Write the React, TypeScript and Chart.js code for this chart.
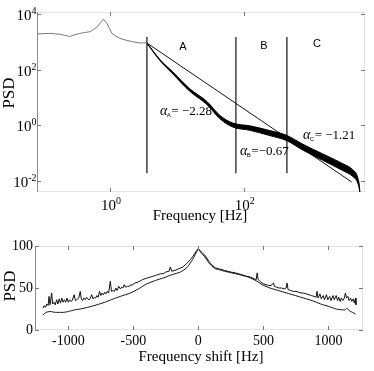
import React, { useEffect, useRef } from "react";
import { Chart, registerables } from "chart.js";
Chart.register(...registerables);

// ---------- Top panel data (log-log PSD) ----------
const lowFreq = [0.081, 0.1, 0.126, 0.15, 0.178, 0.21, 0.251, 0.29, 0.355, 0.42, 0.501, 0.56, 0.646, 0.72, 0.794, 0.85, 0.902, 0.98, 1.07, 1.22, 1.41, 1.7, 2.19, 2.8, 3.56];
const lowPsd = [1905, 1950, 2000, 1930, 1860, 1700, 1550, 1750, 1990, 2150, 2290, 2700, 3450, 4800, 6450, 5500, 4570, 3000, 2000, 1600, 1320, 1150, 1000, 900, 920];

const bandFreq = [3.56, 5.57, 8.71, 15.6, 28.1, 43.9, 68.5, 123, 244, 439, 760, 1510, 3006, 4236, 5012, 5370, 5430];
const bandUpper = [923, 230, 81.3, 20.2, 7.03, 2.23, 1.18, 0.938, 0.634, 0.424, 0.205, 0.0916, 0.0408, 0.0245, 0.0132, 0.0051, 0.003];
const bandLower = [881, 210, 68.9, 16.4, 5.48, 1.69, 0.847, 0.649, 0.419, 0.274, 0.126, 0.054, 0.023, 0.0141, 0.0083, 0.0041, 0.003];

const fitFreq = [3.56, 4093];
const fitPsd = [902, 0.00891];

const boundaryFreq = [3.56, 75.9, 439];
const boundaryPsd = [1479, 0.0186];

const regionNames = ["A", "B", "C"];
const alphaSubs = ["A", "B", "C"];
const alphaValues = ["= \u22122.28", "=\u22120.67", "= \u22121.21"];

const topYTickExps = [-2, 0, 2, 4];
const topXTickExps = [0, 2];

// ---------- Bottom panel data ----------
const shiftUpperFreq = [
  -1195, -1185, -1175, -1165, -1155, -1148, -1140, -1128, -1120, -1110, -1100, -1090, -1080, -1070, -1060, -1050, -1040, -1030, -1020, -1010,
  -1000, -990, -980, -970, -955, -945, -935, -920, -908, -900, -890, -880, -870, -860,
  -850, -840, -830, -820, -810, -800, -790, -780, -770, -760, -750, -740, -730, -720, -710, -700, -690, -677, -668, -655, -645, -635, -625, -612,
  -600, -590, -580, -570, -560, -545, -530, -520, -510, -500, -490, -480, -470, -460, -450,
  -430, -410, -390, -370, -350, -330, -310, -290, -270, -250, -225, -215, -205, -180, -150, -120, -90, -60, -40, -20, 0,
  15, 30, 55, 80, 105, 130, 155, 200, 250, 285, 330, 370, 400, 430, 445, 452, 460, 480, 500, 520, 540, 560, 570, 578, 585,
  600, 620, 640, 660, 675, 682, 690, 710, 730, 750, 770, 790, 810, 830, 850, 870, 890, 905, 913, 920, 935, 945, 960, 970, 985, 995,
  1010, 1020, 1035, 1045, 1060, 1070, 1080, 1090, 1100, 1110, 1120, 1131, 1140, 1150, 1160, 1170, 1180, 1190, 1200, 1208, 1212,
];
const shiftUpperPsd = [
  26, 29, 27, 31, 29, 40, 30, 44, 31, 33, 30, 36, 31, 37, 32, 38, 33, 36, 33, 38,
  33, 36, 34, 35, 42, 35, 36, 38, 46, 37, 35, 38, 36, 39,
  37, 36, 38, 42, 37, 39, 38, 41, 39, 46, 41, 44, 42, 45, 43, 46, 44, 58, 46, 47, 46, 50, 47, 52,
  49, 51, 50, 54, 51, 52, 52, 54, 53, 55, 55, 57, 56, 58, 58,
  60, 61, 62, 63, 64, 65, 66, 67, 67, 69, 70, 75, 70, 71, 73, 75, 79, 84, 88, 93, 97,
  94, 92, 88, 82, 77, 74, 73, 71, 69, 68, 66, 64, 63, 61, 60, 68, 60, 57, 55, 54, 53, 53, 55, 56, 52,
  51, 50, 50, 49, 50, 56, 48, 47, 46, 46, 45, 44, 44, 43, 42, 41, 40, 39, 46, 38, 43, 37, 41, 36, 42, 36,
  40, 35, 41, 36, 41, 35, 39, 34, 38, 35, 37, 44, 38, 40, 35, 38, 34, 37, 32, 38, 30,
];

const shiftLowerFreq = [-1195, -1170, -1140, -1100, -1060, -1036, -1000, -950, -908, -850, -780, -720, -654, -600, -523, -460, -395, -330, -269, -200, -138, -90, -60, -30, 0, 20, 50, 80, 105, 130, 155, 200, 285, 385, 451, 490, 550, 615, 680, 746, 810, 875, 940, 1003, 1060, 1105, 1130, 1144, 1160, 1185, 1208];
const shiftLowerPsd = [18, 21, 22, 21, 21, 21, 22, 24, 25, 27, 30, 33, 37, 40, 44, 49, 55, 59, 62, 66, 69, 74, 80, 88, 96, 92, 87, 80, 76, 73, 72, 70, 67, 63, 58, 54, 50, 47, 44, 41, 38, 35, 31, 28, 25, 24, 24, 26, 23, 21, 19];

const shiftTicks = [-1000, -500, 0, 500, 1000];
const psdTicks = [0, 50, 100];

const SERIF = "'Liberation Serif', 'Times New Roman', serif";
const SANS = "'Liberation Sans', Arial, sans-serif";

function pts(xs: number[], ys: number[]) {
  return xs.map((x, i) => ({ x, y: ys[i] }));
}

function drawBox(ctx: CanvasRenderingContext2D, a: any) {
  ctx.save();
  ctx.lineWidth = 1;
  ctx.strokeStyle = "#e3e3e3";
  ctx.beginPath();
  ctx.moveTo(a.left, a.top + 0.5);
  ctx.lineTo(a.right, a.top + 0.5);
  ctx.moveTo(a.right - 0.5, a.top);
  ctx.lineTo(a.right - 0.5, a.bottom);
  ctx.moveTo(a.left, a.bottom - 0.5);
  ctx.lineTo(a.right, a.bottom - 0.5);
  ctx.stroke();
  ctx.strokeStyle = "#8c8c8c";
  ctx.beginPath();
  ctx.moveTo(a.left + 0.5, a.top);
  ctx.lineTo(a.left + 0.5, a.bottom);
  ctx.stroke();
  ctx.restore();
}

function drawTicks(ctx: CanvasRenderingContext2D, a: any, xs: number[], ys: number[]) {
  ctx.save();
  ctx.lineWidth = 1;
  ctx.strokeStyle = "#777";
  ctx.beginPath();
  xs.forEach((px) => {
    const x = Math.round(px) + 0.5;
    ctx.moveTo(x, a.bottom);
    ctx.lineTo(x, a.bottom - 4);
    ctx.moveTo(x, a.top);
    ctx.lineTo(x, a.top + 4);
  });
  ys.forEach((py) => {
    const y = Math.round(py) + 0.5;
    ctx.moveTo(a.left, y);
    ctx.lineTo(a.left + 4, y);
    ctx.moveTo(a.right, y);
    ctx.lineTo(a.right - 4, y);
  });
  ctx.stroke();
  ctx.restore();
}

function drawPower(ctx: CanvasRenderingContext2D, exp: string, anchorX: number, baseY: number, align: "right" | "center") {
  ctx.font = `15px ${SERIF}`;
  const wb = ctx.measureText("10").width;
  ctx.font = `10px ${SERIF}`;
  const we = ctx.measureText(exp).width;
  const start = align === "right" ? anchorX - wb - we : anchorX - (wb + we) / 2;
  ctx.textAlign = "left";
  ctx.textBaseline = "alphabetic";
  ctx.font = `15px ${SERIF}`;
  ctx.fillText("10", start, baseY);
  ctx.font = `10px ${SERIF}`;
  ctx.fillText(exp, start + wb, baseY - 6);
}

function drawAlpha(ctx: CanvasRenderingContext2D, x: number, cy: number, sub: string, rest: string) {
  const base = cy + 4;
  ctx.textAlign = "left";
  ctx.textBaseline = "alphabetic";
  ctx.font = `italic 14px ${SERIF}`;
  ctx.fillText("\u03B1", x, base);
  let w = ctx.measureText("\u03B1").width;
  ctx.font = `6px ${SANS}`;
  ctx.fillText(sub, x + w - 0.5, base + 2);
  w += ctx.measureText(sub).width;
  ctx.font = `13px ${SERIF}`;
  ctx.fillText(rest, x + w, base);
}

const topDecor = {
  id: "topDecor",
  beforeDatasetsDraw(chart: any) {
    drawBox(chart.ctx, chart.chartArea);
  },
  afterDraw(chart: any) {
    const { ctx, chartArea: a, scales } = chart;
    const xs = scales.x, ys = scales.y;
    const xPix = topXTickExps.map((e) => xs.getPixelForValue(Math.pow(10, e)));
    const yPix = topYTickExps.map((e) => ys.getPixelForValue(Math.pow(10, e)));
    drawTicks(ctx, a, xPix, yPix);
    ctx.save();
    ctx.fillStyle = "#000";
    topYTickExps.forEach((e, i) => {
      drawPower(ctx, e < 0 ? "-" + Math.abs(e) : String(e), a.left - 0.5, yPix[i] + 6, "right");
    });
    topXTickExps.forEach((e, i) => {
      drawPower(ctx, String(e), xPix[i] + 1, a.bottom + 18, "center");
    });
    // axis titles
    ctx.font = `15px ${SERIF}`;
    ctx.textAlign = "center";
    ctx.textBaseline = "middle";
    ctx.fillText("Frequency [Hz]", 200, 216);
    ctx.save();
    ctx.translate(10, 93);
    ctx.rotate(-Math.PI / 2);
    ctx.font = `17px ${SERIF}`;
    ctx.fillText("PSD", 0, 0);
    ctx.restore();
    // region labels
    ctx.font = `11px ${SANS}`;
    const regionPos = [[183, 47], [264, 46], [317, 44]];
    regionNames.forEach((n, i) => ctx.fillText(n, regionPos[i][0], regionPos[i][1]));
    // slope labels
    const alphaPos = [[160, 111], [240, 151], [303, 135]];
    alphaSubs.forEach((s, i) => drawAlpha(ctx, alphaPos[i][0], alphaPos[i][1], s, alphaValues[i]));
    ctx.restore();
  },
};

const bottomDecor = {
  id: "bottomDecor",
  beforeDatasetsDraw(chart: any) {
    drawBox(chart.ctx, chart.chartArea);
  },
  afterDraw(chart: any) {
    const { ctx, chartArea: a, scales } = chart;
    const xPix = shiftTicks.map((v) => scales.x.getPixelForValue(v));
    const yPix = psdTicks.map((v) => scales.y.getPixelForValue(v));
    drawTicks(ctx, a, xPix, yPix);
    ctx.save();
    ctx.fillStyle = "#000";
    ctx.font = `14px ${SERIF}`;
    ctx.textAlign = "right";
    ctx.textBaseline = "middle";
    psdTicks.forEach((v, i) => ctx.fillText(String(v), a.left - 2, yPix[i]));
    ctx.textAlign = "center";
    shiftTicks.forEach((v, i) => ctx.fillText(String(v), xPix[i], a.bottom + 11));
    ctx.font = `15px ${SERIF}`;
    ctx.fillText("Frequency shift [Hz]", 201, 129);
    ctx.save();
    ctx.translate(11, 58);
    ctx.rotate(-Math.PI / 2);
    ctx.font = `17px ${SERIF}`;
    ctx.fillText("PSD", 0, 0);
    ctx.restore();
    ctx.restore();
  },
};

export default function App() {
  const topRef = useRef<HTMLCanvasElement>(null);
  const botRef = useRef<HTMLCanvasElement>(null);

  useEffect(() => {
    const line = (data: any[], color: string, width: number, extra: any = {}) => ({
      data,
      borderColor: color,
      borderWidth: width,
      pointRadius: 0,
      fill: false,
      ...extra,
    });

    const topDatasets: any[] = [
      line(pts(lowFreq, lowPsd), "#7a7a7a", 1),
      line(pts(bandFreq, bandUpper), "#000", 1, { cubicInterpolationMode: "monotone" }),
      line(pts(bandFreq, bandLower), "#000", 1, { cubicInterpolationMode: "monotone", fill: "-1", backgroundColor: "#000" }),
      line(pts(fitFreq, fitPsd), "#111", 1),
      ...boundaryFreq.map((f) => line(pts([f, f], boundaryPsd), "#555", 1)),
    ];

    const c1 = new Chart(topRef.current!, {
      type: "line",
      data: { datasets: topDatasets },
      options: {
        responsive: false,
        animation: false,
        devicePixelRatio: 1,
        parsing: false as any,
        layout: { padding: { left: 37, right: 9, top: 12, bottom: 36 } },
        plugins: { legend: { display: false }, tooltip: { enabled: false } },
        scales: {
          x: { type: "logarithmic", min: 0.0813, max: 6457, display: false },
          y: { type: "logarithmic", min: 0.0039, max: 11750, display: false },
        },
      },
      plugins: [topDecor],
    });

    const c2 = new Chart(botRef.current!, {
      type: "line",
      data: {
        datasets: [
          line(pts(shiftUpperFreq, shiftUpperPsd), "#111", 1),
          line(pts(shiftLowerFreq, shiftLowerPsd), "#111", 1, { tension: 0.2 }),
        ],
      },
      options: {
        responsive: false,
        animation: false,
        devicePixelRatio: 1,
        parsing: false as any,
        layout: { padding: { left: 35, right: 11, top: 18, bottom: 41 } },
        plugins: { legend: { display: false }, tooltip: { enabled: false } },
        scales: {
          x: { type: "linear", min: -1256, max: 1266, display: false },
          y: { type: "linear", min: 0, max: 100, display: false },
        },
      },
      plugins: [bottomDecor],
    });

    return () => {
      c1.destroy();
      c2.destroy();
    };
  }, []);

  return (
    <div style={{ position: "fixed", left: 0, top: 0, width: 374, height: 371, background: "#fff" }}>
      <canvas ref={topRef} width={374} height={228} style={{ position: "absolute", left: 0, top: 0, display: "block" }} />
      <canvas ref={botRef} width={374} height={143} style={{ position: "absolute", left: 0, top: 228, display: "block" }} />
    </div>
  );
}
